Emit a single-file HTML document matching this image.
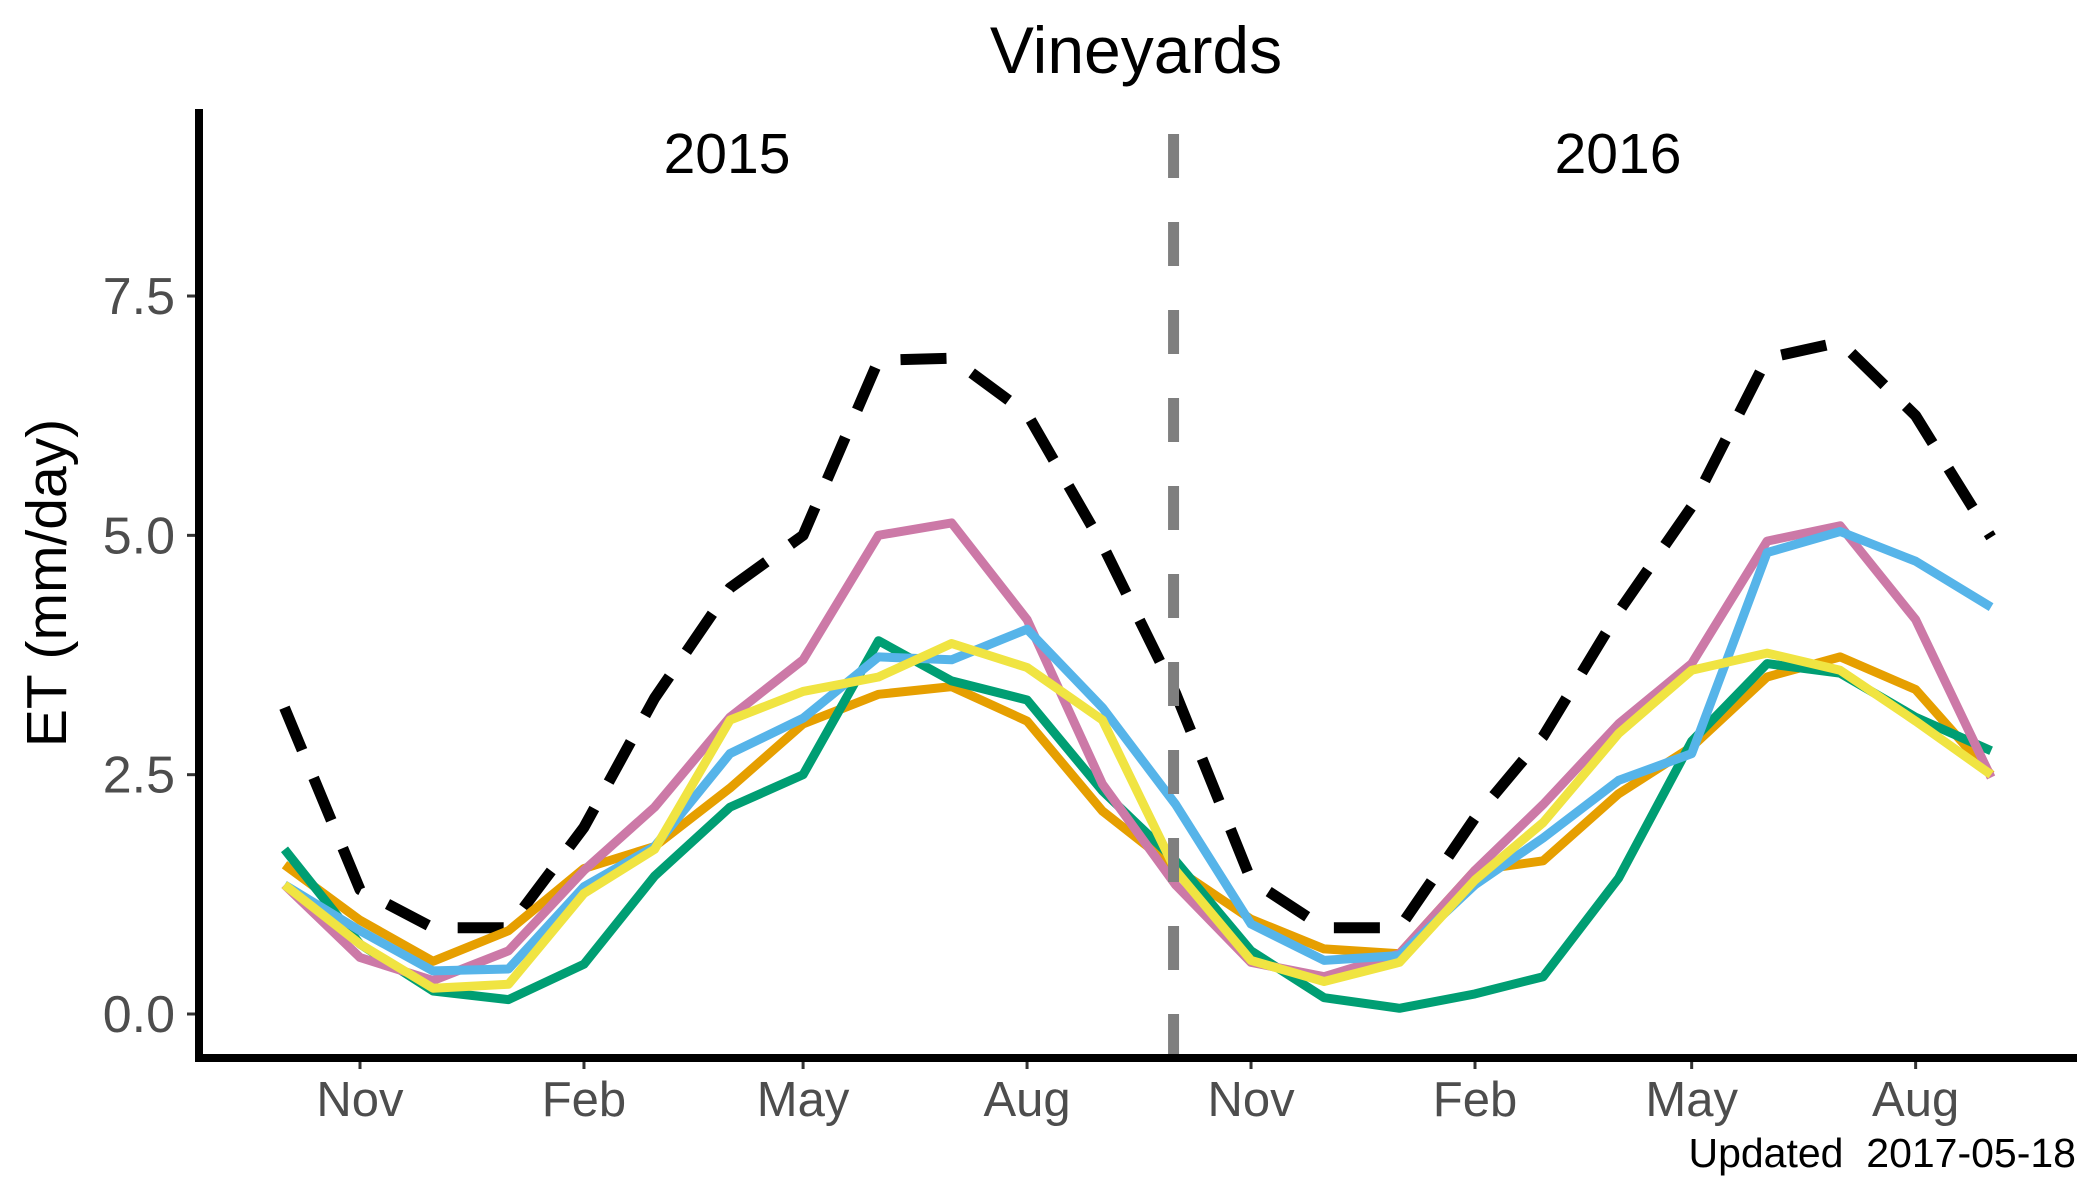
<!DOCTYPE html>
<html><head><meta charset="utf-8"><title>Vineyards</title>
<style>
html,body{margin:0;padding:0;background:#fff;}
svg{display:block;font-family:"Liberation Sans",Arial,sans-serif;}
</style></head>
<body>
<svg id="chart" width="2100" height="1200" viewBox="0 0 2100 1200" xmlns="http://www.w3.org/2000/svg">
<rect x="0" y="0" width="2100" height="1200" fill="#fff"/>
<text x="1136" y="73" font-size="66" text-anchor="middle" fill="#000">Vineyards</text>
<text x="727" y="173" font-size="57" text-anchor="middle" fill="#000">2015</text>
<text x="1618" y="173" font-size="57" text-anchor="middle" fill="#000">2016</text>
<text transform="translate(66,583) rotate(-90)" font-size="57" text-anchor="middle" fill="#000">ET (mm/day)</text>
<text x="2076" y="1167" font-size="41" text-anchor="end" fill="#000">Updated&#160; 2017-05-18</text>
<g id="yticks"></g>
<g id="xticks"></g>
<g id="series"></g>
<line id="divider" stroke="#7f7f7f" stroke-width="11" stroke-dasharray="44 44"/>
<line x1="199" y1="109" x2="199" y2="1062" stroke="#000" stroke-width="8"/>
<line x1="195" y1="1058" x2="2077" y2="1058" stroke="#000" stroke-width="8"/>
</svg>
<script>
const months = ["2015-10-01","2015-11-01","2015-12-01","2016-01-01","2016-02-01","2016-03-01","2016-04-01","2016-05-01","2016-06-01","2016-07-01","2016-08-01","2016-09-01","2016-10-01","2016-11-01","2016-12-01","2017-01-01","2017-02-01","2017-03-01","2017-04-01","2017-05-01","2017-06-01","2017-07-01","2017-08-01","2017-09-01"];
const reference = [3.2,1.3,0.9,0.9,1.95,3.3,4.45,5.0,6.83,6.85,6.27,4.9,3.35,1.4,0.9,0.9,2.05,2.9,4.2,5.3,6.85,7.02,6.25,4.98];
const orange = [1.56,0.98,0.55,0.87,1.52,1.75,2.36,3.03,3.34,3.42,3.06,2.12,1.52,0.99,0.68,0.63,1.5,1.6,2.3,2.79,3.52,3.73,3.39,2.5];
const green = [1.72,0.73,0.24,0.15,0.52,1.44,2.16,2.5,3.9,3.48,3.28,2.33,1.6,0.66,0.17,0.06,0.21,0.39,1.42,2.85,3.66,3.56,3.1,2.75];
const pink = [1.35,0.59,0.35,0.66,1.5,2.16,3.1,3.7,5.0,5.13,4.12,2.4,1.35,0.54,0.39,0.63,1.5,2.19,3.03,3.66,4.94,5.1,4.12,2.47];
const blue = [1.35,0.87,0.45,0.47,1.33,1.75,2.72,3.09,3.73,3.7,4.02,3.2,2.19,0.94,0.56,0.61,1.35,1.84,2.44,2.72,4.82,5.04,4.73,4.25];
const yellow = [1.35,0.73,0.27,0.31,1.26,1.72,3.07,3.37,3.52,3.87,3.62,3.07,1.5,0.56,0.34,0.54,1.4,2.0,2.93,3.59,3.77,3.59,3.06,2.5];
const yTicks = [0, 2.5, 5, 7.5];
const yTickLabels = ["0.0","2.5","5.0","7.5"];
const xTickDates = ["2015-11-01","2016-02-01","2016-05-01","2016-08-01","2016-11-01","2017-02-01","2017-05-01","2017-08-01"];
const xTickLabels = ["Nov","Feb","May","Aug","Nov","Feb","May","Aug"];
const dividerDate = "2016-10-01";

const NS = "http://www.w3.org/2000/svg";
const dayMs = 86400000;
const x0 = Date.parse("2015-11-01");
function xScale(d){ return 360 + (Date.parse(d) - x0) / dayMs * 2.4345; }
function yScale(v){ return 1014 - v * 95.73; }

const yt = document.getElementById("yticks");
yTicks.forEach((v,i)=>{
  const l = document.createElementNS(NS,"line");
  l.setAttribute("x1",187); l.setAttribute("x2",196);
  l.setAttribute("y1",yScale(v)); l.setAttribute("y2",yScale(v));
  l.setAttribute("stroke","#333"); l.setAttribute("stroke-width","3");
  
  
  yt.appendChild(l);
  const t = document.createElementNS(NS,"text");
  t.setAttribute("x",175); t.setAttribute("y",yScale(v)+18);
  t.setAttribute("font-size","52"); t.setAttribute("fill","#4d4d4d");
  t.setAttribute("text-anchor","end");
  t.textContent = yTickLabels[i];
  
  
  yt.appendChild(t);
});
const xt = document.getElementById("xticks");
xTickDates.forEach((d,i)=>{
  const x = xScale(d);
  const l = document.createElementNS(NS,"line");
  l.setAttribute("x1",x); l.setAttribute("x2",x);
  l.setAttribute("y1",1060); l.setAttribute("y2",1069);
  l.setAttribute("stroke","#333"); l.setAttribute("stroke-width","3");
  
  
  xt.appendChild(l);
  const t = document.createElementNS(NS,"text");
  t.setAttribute("x",x); t.setAttribute("y",1116);
  t.setAttribute("font-size","49"); t.setAttribute("fill","#4d4d4d");
  t.setAttribute("text-anchor","middle");
  t.textContent = xTickLabels[i];
  
  
  xt.appendChild(t);
});
const dv = document.getElementById("divider");
const dx = xScale(dividerDate) - 2;
dv.setAttribute("x1",dx); dv.setAttribute("x2",dx);
dv.setAttribute("y1",134); dv.setAttribute("y2",1056);

const sg = document.getElementById("series");
function drawLine(vals, color, width, dash, name){
  const p = document.createElementNS(NS,"polyline");
  p.setAttribute("points", vals.map((v,i)=>xScale(months[i]).toFixed(1)+","+yScale(v).toFixed(1)).join(" "));
  p.setAttribute("fill","none");
  p.setAttribute("stroke",color);
  p.setAttribute("stroke-width",width);
  p.setAttribute("stroke-linejoin","round");
  if(dash) p.setAttribute("stroke-dasharray",dash);
  
  
  sg.appendChild(p);
}
drawLine(reference,"#000",11,"46 30","reference-et-line");
drawLine(orange,"#E69F00",9,null,"series-orange-line");
drawLine(green,"#009E73",9,null,"series-green-line");
drawLine(pink,"#CC79A7",9,null,"series-pink-line");
drawLine(blue,"#56B4E9",9,null,"series-blue-line");
drawLine(yellow,"#F0E442",9,null,"series-yellow-line");
</script>
</body></html>
